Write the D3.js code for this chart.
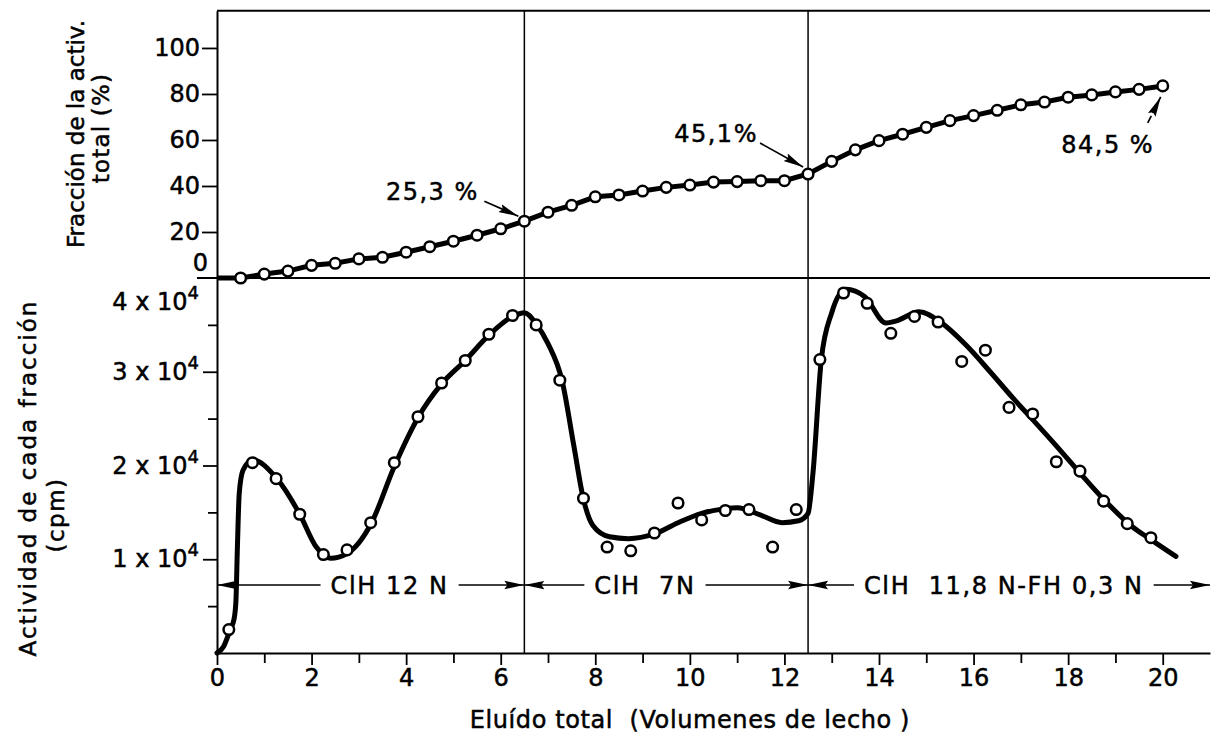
<!DOCTYPE html>
<html>
<head>
<meta charset="utf-8">
<script src="https://cdn.jsdelivr.net/npm/d3@7"></script>
<style>
    body { margin: 0; background: #fff; }
    svg { font-family: "DejaVu Sans", sans-serif; }
    text { fill: #000; stroke: #000; stroke-width: 0.5px; white-space: pre; }
</style>
</head>
<body>
<svg id="drawing_region"></svg>
<script>
// upper panel: cumulative fraction of the total activity (%)
const fracOrigin = [0, 0];
const fracX = [0.5, 1, 1.5, 2, 2.5, 3, 3.5, 4, 4.5, 5, 5.5, 6, 6.5, 7, 7.5, 8, 8.5, 9, 9.5, 10,
               10.5, 11, 11.5, 12, 12.5, 13, 13.5, 14, 14.5, 15, 15.5, 16, 16.5, 17, 17.5, 18, 18.5, 19, 19.5, 20];
const fracY = [0, 1.7, 3.0, 5.5, 6.4, 8.3, 9.0, 11.2, 13.6, 16.0, 18.6, 21.4, 24.7, 28.6, 31.6, 35.3, 36.1, 37.8, 39.4, 40.4,
               41.7, 41.9, 42.3, 42.3, 45.2, 50.7, 55.7, 59.7, 62.5, 65.5, 68.4, 70.6, 72.9, 75.3, 76.5, 78.6, 79.6, 80.9, 82.0, 83.5];

// lower panel: activity of each fraction (cpm), measured points
const actX = [0.25, 0.75, 1.25, 1.75, 2.25, 2.75, 3.25, 3.75, 4.25, 4.75, 5.25, 5.75, 6.25, 6.75, 7.25, 7.75, 8.25, 8.75, 9.25, 9.75,
              10.25, 10.75, 11.25, 11.75, 12.25, 12.75, 13.25, 13.75, 14.25, 14.75, 15.25, 15.75, 16.25, 16.75, 17.25, 17.75, 18.25, 18.75, 19.25, 19.75];
const actY = [2500, 20300, 18600, 14800, 10500, 11000, 13900, 20300, 25200, 28800, 31200, 34000, 36000, 35000, 29100, 16500, 11300, 10900, 12800, 16000,
              14200, 15200, 15300, 11300, 15300, 31300, 38400, 37300, 34100, 35900, 35300, 31100, 32300, 26200, 25500, 20400, 19400, 16200, 13800, 12300];

// hand-drawn smooth curve through the activity points
const curveX = [0, 0.14, 0.28, 0.36, 0.40, 0.43, 0.47, 0.55, 0.75, 1.25, 1.75, 2.1, 2.4, 2.75, 3.25, 3.75, 4.25, 4.75, 5.25, 5.75,
                6.25, 6.5, 6.75, 7.0, 7.3, 7.55, 7.75, 7.95, 8.3, 8.7, 9.25, 9.75, 10.25, 10.75, 11.0, 11.5, 11.95, 12.3, 12.5, 12.6,
                12.78, 13.0, 13.3, 13.7, 14.15, 14.35, 14.85, 15.3, 15.85, 16.35, 16.85, 17.25, 17.75, 18.25, 18.75, 19.35, 19.75, 20.28];
const curveY = [0, 700, 2500, 3600, 5500, 11000, 17000, 19500, 20600, 18700, 14800, 11300, 10100, 10600, 13700, 19900, 25100, 28700, 31200, 33900,
                35900, 36300, 35100, 33000, 29000, 22000, 16400, 13600, 12400, 12200, 12700, 13900, 14900, 15400, 15500, 14700, 13900, 14100, 14900, 19000,
                31300, 36300, 38800, 38000, 35200, 35400, 36400, 35300, 32800, 30000, 27100, 24900, 22100, 19200, 16400, 13500, 12100, 10300];

const fracTicks = [0, 20, 40, 60, 80, 100];
const actTicks = [10000, 20000, 30000, 40000];
const actMinorTicks = [5000, 15000, 25000, 35000];
const xTicks = [0, 2, 4, 6, 8, 10, 12, 14, 16, 18, 20];
const xMinorTicks = [1, 3, 5, 7, 9, 11, 13, 15, 17, 19];

// eluent changes (bed volumes)
const boundaries = [6.5, 12.5];
const eluents = ['ClH 12 N', 'ClH  7N', 'ClH  11,8 N-FH 0,3 N'];
const eluentStart = [0, 6.5, 12.5];
const eluentEnd = [6.5, 12.5, 21];

// percentages marked on the upper curve
const marks = ['25,3 %', '45,1%', '84,5 %'];
const markX = [6.5, 12.5, 20];


class ElutionChart {

    constructor( config ) {
        this.config = {
            parent: config.parent,
            width: config.width || 1212,
            height: config.height || 736,
            left: config.left, right: config.right,
            top: config.top, split: config.split, bottom: config.bottom,
            eluentLevel: config.eluentLevel,
            eluentMid: config.eluentMid,
            markLayout: config.markLayout
        };
        this.init();
    }

    init() {
        let self = this;

        self.svg = d3.select( self.config.parent )
            .attr('width', self.config.width)
            .attr('height', self.config.height);

        self.xscale = d3.scaleLinear()
            .domain([0, 21])
            .range([self.config.left, self.config.right]);

        self.fscale = d3.scaleLinear()
            .domain([0, 116.2])
            .range([self.config.split, self.config.top]);

        self.ascale = d3.scaleLinear()
            .domain([0, 40000])
            .range([self.config.bottom, self.config.split]);

        const head = self.svg.append('defs').append('marker')
            .attr('id', 'head')
            .attr('viewBox', '0 -5 20 10')
            .attr('refX', 20).attr('refY', 0)
            .attr('markerWidth', 20).attr('markerHeight', 10)
            .attr('markerUnits', 'userSpaceOnUse')
            .attr('orient', 'auto');
        head.append('path')
            .attr('d', 'M0,-4.2L20,0L0,4.2L3,0Z')
            .attr('fill', '#000');
    }

    render() {
        let self = this;
        const c = self.config;
        const x = self.xscale;

        // frame
        self.svg.append('line')
            .attr('x1', c.left).attr('x2', c.right)
            .attr('y1', c.top).attr('y2', c.top)
            .attr('stroke', '#000').attr('stroke-width', 2);
        self.svg.append('line')
            .attr('x1', c.left - 20).attr('x2', c.right)
            .attr('y1', c.split).attr('y2', c.split)
            .attr('stroke', '#000').attr('stroke-width', 1.8);
        self.svg.selectAll('.bound')
            .data(boundaries)
            .enter().append('line')
            .attr('x1', d => x(d)).attr('x2', d => x(d))
            .attr('y1', c.top).attr('y2', c.bottom)
            .attr('stroke', '#000').attr('stroke-width', 1.5);

        // upper y axis
        const fy = self.svg.append('g')
            .attr('transform', `translate(${c.left},0)`)
            .call( d3.axisLeft(self.fscale).tickValues(fracTicks).tickSize(15).tickSizeOuter(0).tickPadding(2) );
        fy.select('.domain').attr('stroke-width', 2);
        fy.selectAll('.tick line').attr('stroke-width', 1.8);
        fy.selectAll('.tick text').attr('font-size', 24).attr('font-family', '"DejaVu Sans", sans-serif');
        fy.selectAll('.tick').filter(d => d === 0).select('text').attr('x', -9).attr('dy', '-0.3em');
        fy.selectAll('.tick').filter(d => d === 0).select('line').remove();

        // lower y axis
        const ay = self.svg.append('g')
            .attr('transform', `translate(${c.left},0)`)
            .call( d3.axisLeft(self.ascale).tickValues(actTicks).tickSize(14).tickSizeOuter(0).tickPadding(4) );
        ay.select('.domain').attr('stroke-width', 2);
        ay.selectAll('.tick line').attr('stroke-width', 1.8);
        ay.selectAll('.tick text').each(function(d) {
            const t = d3.select(this).text(null)
                .attr('font-size', 24).attr('font-family', '"DejaVu Sans", sans-serif');
            t.append('tspan').text(`${d / 10000} x 10`);
            t.append('tspan').attr('dy', -11).attr('font-size', 18).text('4');
        });
        ay.selectAll('.tick').filter(d => d === 40000).select('text').attr('dy', '1.3em');
        ay.selectAll('.tick').filter(d => d === 40000).select('line').remove();
        self.svg.append('g')
            .attr('transform', `translate(${c.left},0)`)
            .call( d3.axisLeft(self.ascale).tickValues(actMinorTicks).tickSize(9).tickFormat('').tickSizeOuter(0) )
            .call(g => g.select('.domain').remove())
            .selectAll('.tick line').attr('stroke-width', 1.8);

        // x axis
        const xa = self.svg.append('g')
            .attr('transform', `translate(0,${c.bottom})`)
            .call( d3.axisBottom(x).tickValues(xTicks).tickSize(12).tickSizeOuter(0).tickPadding(4) );
        xa.select('.domain').attr('stroke-width', 2);
        xa.selectAll('.tick line').attr('stroke-width', 1.8);
        xa.selectAll('.tick text').attr('font-size', 24).attr('font-family', '"DejaVu Sans", sans-serif');
        self.svg.append('g')
            .attr('transform', `translate(0,${c.bottom})`)
            .call( d3.axisBottom(x).tickValues(xMinorTicks).tickSize(10).tickFormat('').tickSizeOuter(0) )
            .call(g => g.select('.domain').remove())
            .selectAll('.tick line').attr('stroke-width', 1.8);

        // axis titles
        self.svg.append('text')
            .attr('transform', 'translate(84,134) rotate(-90)')
            .attr('text-anchor', 'middle').attr('font-size', 23)
            .text('Fracción de la activ.');
        self.svg.append('text')
            .attr('transform', 'translate(109,128) rotate(-90)')
            .attr('text-anchor', 'middle').attr('font-size', 23).attr('letter-spacing', 1.2)
            .text('total (%)');
        self.svg.append('text')
            .attr('transform', 'translate(36,478) rotate(-90)')
            .attr('text-anchor', 'middle').attr('font-size', 23).attr('letter-spacing', 2)
            .text('Actividad de cada fracción');
        self.svg.append('text')
            .attr('transform', 'translate(64,515) rotate(-90)')
            .attr('text-anchor', 'middle').attr('font-size', 23).attr('letter-spacing', 1.5)
            .text('(cpm)');
        self.svg.append('text')
            .attr('x', x(10)).attr('y', 728)
            .attr('text-anchor', 'middle').attr('font-size', 24).attr('letter-spacing', 0.6)
            .text('Eluído total  (Volumenes de lecho )');

        // upper curve
        const frac = fracX.map((d, i) => [d, fracY[i]]);
        const fracLine = d3.line().x(d => x(d[0])).y(d => self.fscale(d[1]));
        self.svg.append('path')
            .attr('d', fracLine([fracOrigin, ...frac]))
            .attr('fill', 'none').attr('stroke', '#000').attr('stroke-width', 5);
        self.svg.selectAll('.frac')
            .data(frac)
            .enter().append('circle')
            .attr('cx', d => x(d[0])).attr('cy', d => self.fscale(d[1]))
            .attr('r', 5.3).attr('fill', '#fff').attr('stroke', '#000').attr('stroke-width', 2.5);

        // lower curve
        const curve = curveX.map((d, i) => [d, curveY[i]]);
        const actLine = d3.line().x(d => x(d[0])).y(d => self.ascale(d[1])).curve(d3.curveMonotoneX);
        self.svg.append('path')
            .attr('d', actLine(curve))
            .attr('fill', 'none').attr('stroke', '#000').attr('stroke-width', 5)
            .attr('stroke-linecap', 'round').attr('stroke-linejoin', 'round');
        self.svg.selectAll('.act')
            .data(actX.map((d, i) => [d, actY[i]]))
            .enter().append('circle')
            .attr('cx', d => x(d[0])).attr('cy', d => self.ascale(d[1]))
            .attr('r', 5.3).attr('fill', '#fff').attr('stroke', '#000').attr('stroke-width', 2.5);

        // eluent ranges
        const ey = self.ascale(c.eluentLevel);
        eluents.forEach((name, i) => {
            const cx = x(c.eluentMid[i]);
            const t = self.svg.append('text')
                .attr('x', cx).attr('y', ey).attr('dy', '0.36em')
                .attr('text-anchor', 'middle').attr('font-size', 24).attr('letter-spacing', 1.6)
                .text(name);
            const w = t.node().getComputedTextLength();
            [[cx - w / 2 - 10, x(eluentStart[i])], [cx + w / 2 + 10, x(eluentEnd[i])]].forEach(s => {
                self.svg.append('line')
                    .attr('x1', s[0]).attr('x2', s[1]).attr('y1', ey).attr('y2', ey)
                    .attr('stroke', '#000').attr('stroke-width', 1.4)
                    .attr('marker-end', 'url(#head)');
            });
        });

        // percentage marks
        marks.forEach((m, i) => {
            const k = fracX.indexOf(markX[i]);
            const px = x(fracX[k]), py = self.fscale(fracY[k]);
            const o = c.markLayout[i];
            self.svg.append('text')
                .attr('x', px + o.tx).attr('y', py + o.ty)
                .attr('text-anchor', 'middle').attr('font-size', 24).attr('letter-spacing', 1.5)
                .text(m);
            self.svg.append('line')
                .attr('x1', px + o.a0[0]).attr('y1', py + o.a0[1])
                .attr('x2', px + o.a1[0]).attr('y2', py + o.a1[1])
                .attr('stroke', '#000').attr('stroke-width', 1.7)
                .attr('stroke-dasharray', o.dash || null)
                .attr('marker-end', 'url(#head)');
        });
    }
}

const chart = new ElutionChart({
    parent: '#drawing_region',
    width: 1212, height: 736,
    left: 217, right: 1210, top: 10.7, split: 278, bottom: 653,
    eluentLevel: 7250,
    eluentMid: [3.65, 9.05, 16.64],
    markLayout: [
        { tx: -92, ty: -21, a0: [-40, -20], a1: [-6, -5] },
        { tx: -92, ty: -32, a0: [-48, -31], a1: [-5, -7] },
        { tx: -55, ty: 67, a0: [-15, 37], a1: [-2, 11], dash: '8 3' }
    ]
});
chart.render();
</script>
</body>
</html>
